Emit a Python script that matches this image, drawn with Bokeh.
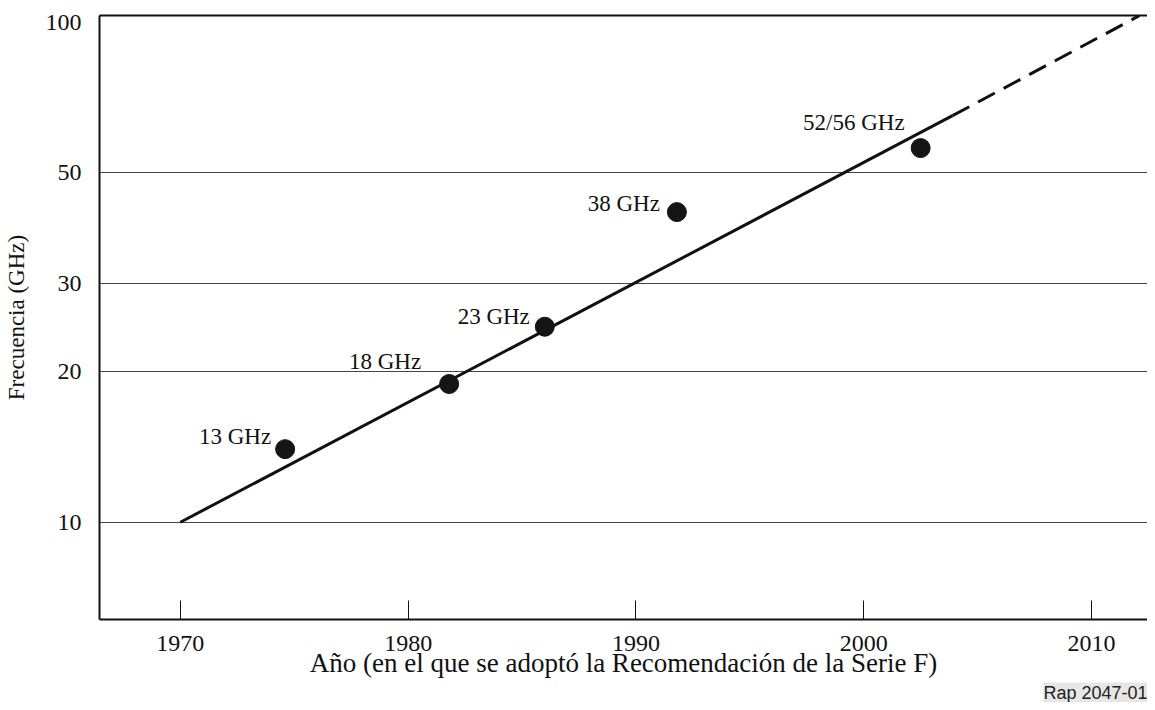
from bokeh.plotting import figure
from bokeh.models import Range1d, FixedTicker, LinearAxis, Title, ColumnDataSource
from bokeh.core.properties import value
from bokeh.embed import file_html
from bokeh.resources import INLINE

# data
point_labels = ["13 GHz", "18 GHz", "23 GHz", "38 GHz", "52/56 GHz"]
point_years = [1974.6, 1981.8, 1986.0, 1991.8, 2002.5]
point_freqs = [14.0, 18.9, 24.6, 41.7, 56.0]

trend_years_solid = [1970.0, 2003.9]
trend_freqs_solid = [10.0, 65.0]
trend_years_dashed = [2003.9, 2012.1]
trend_freqs_dashed = [65.0, 103.0]

x_ticks = [1970, 1980, 1990, 2000, 2010]
y_ticks = [10, 20, 30, 50, 100]
y_grid = [10, 20, 30, 50]

SERIF = "Liberation Serif"

p = figure(width=1147, height=702, y_axis_type="log",
           x_range=Range1d(1966.45, 2012.46), y_range=Range1d(6.39, 103.1),
           output_backend="svg", toolbar_location=None,
           min_border_left=98, min_border_right=0, min_border_top=15, min_border_bottom=83)
p.outline_line_color = None
p.background_fill_color = "white"

# axes
xa = p.xaxis[0]
xa.ticker = FixedTicker(ticks=x_ticks)
xa.axis_line_width = 2
xa.axis_line_color = "#111111"
xa.major_tick_in = 19
xa.major_tick_out = 0
xa.major_tick_line_width = 1
xa.major_tick_line_color = "#111111"
xa.minor_tick_line_color = None
xa.major_label_text_font = SERIF
xa.major_label_text_font_size = "24px"
xa.major_label_text_color = "#111111"
xa.major_label_standoff = 16
xa.axis_label = "Año (en el que se adoptó la Recomendación de la Serie F)"
xa.axis_label_text_font = SERIF
xa.axis_label_text_font_size = "27px"
xa.axis_label_text_font_style = "normal"
xa.axis_label_text_color = "#111111"
xa.axis_label_standoff = -6

ya = p.yaxis[0]
ya.ticker = FixedTicker(ticks=y_ticks)
ya.axis_line_width = 2
ya.axis_line_color = "#111111"
ya.major_tick_in = 0
ya.major_tick_out = 0
ya.minor_tick_line_color = None
ya.major_label_text_font = SERIF
ya.major_label_text_font_size = "24px"
ya.major_label_text_color = "#111111"
ya.major_label_standoff = 18
ya.axis_label = "Frecuencia (GHz)"
ya.axis_label_text_font = SERIF
ya.axis_label_text_font_size = "23px"
ya.axis_label_text_font_style = "normal"
ya.axis_label_text_color = "#111111"
ya.axis_label_standoff = 14

top = LinearAxis(ticker=FixedTicker(ticks=[]), axis_line_width=2, axis_line_color="#111111",
                 major_tick_in=0, major_tick_out=0, minor_tick_line_color=None,
                 major_label_text_font_size="0px", major_label_standoff=0)
p.add_layout(top, "above")

p.xgrid.grid_line_color = None
p.ygrid.ticker = FixedTicker(ticks=y_grid)
p.ygrid.grid_line_color = "#444444"
p.ygrid.grid_line_width = 1

# trend line
p.line(trend_years_solid, trend_freqs_solid, line_color="#111111", line_width=3)
p.line(trend_years_dashed, trend_freqs_dashed, line_color="#111111", line_width=3, line_dash="19 10")

# points
src = ColumnDataSource(dict(x=point_years, y=point_freqs, t=point_labels,
                            xo=[-14, -28, -15, -17, -16], yo=[-13, -22, -10, -9, -26]))
p.scatter("x", "y", source=src, size=19, fill_color="#151515", line_color="#151515")
p.text("x", "y", text="t", source=src, x_offset="xo", y_offset="yo",
       text_align="right", text_baseline="middle",
       text_font=value(SERIF), text_font_size="23px", text_color="#111111")

# reference code
rap = Title(text="Rap 2047-01", align="right", text_font="Liberation Sans",
            text_font_size="18px", text_font_style="normal", text_color="#222222",
            background_fill_color="#e6e6e6", standoff=0, offset=0)
p.add_layout(rap, "below")

open("out.html", "w").write(file_html(p, INLINE))
